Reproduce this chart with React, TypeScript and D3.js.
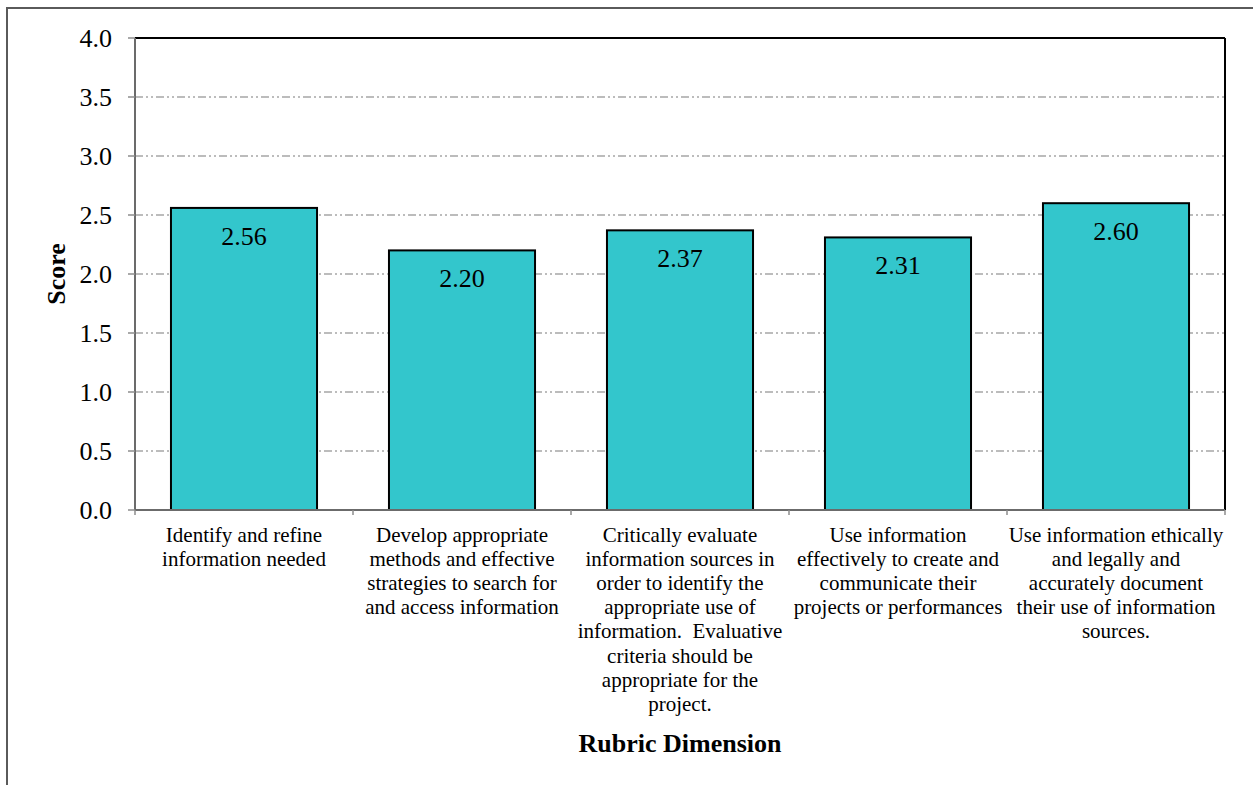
import React from "react";
import * as d3 from "d3";

const categories: string[][] = [
  ["Identify and refine", "information needed"],
  ["Develop appropriate", "methods and effective", "strategies to search for", "and access information"],
  [
    "Critically evaluate",
    "information sources in",
    "order to identify the",
    "appropriate use of",
    "information.  Evaluative",
    "criteria should be",
    "appropriate for the",
    "project.",
  ],
  ["Use information", "effectively to create and", "communicate their", "projects or performances"],
  ["Use information ethically", "and legally and", "accurately document", "their use of information", "sources."],
];
const scores: number[] = [2.56, 2.2, 2.37, 2.31, 2.6];
const yTicks: number[] = [0, 0.5, 1, 1.5, 2, 2.5, 3, 3.5, 4];
const yTitle = "Score";
const xTitle = "Rubric Dimension";

const W = 1253;
const H = 785;
const left = 135;
const right = 1225;
const top = 38;
const bottom = 510;
const FONT = '"Liberation Serif", "Times New Roman", Times, "DejaVu Serif", serif';

export default function App() {
  const idx = categories.map((_, i) => String(i));
  const x = d3.scaleBand<string>().domain(idx).range([left, right]).paddingInner(0.33).paddingOuter(0.165);
  const xOuter = d3.scaleBand<string>().domain(idx).range([left, right]);
  const y = d3.scaleLinear().domain([0, 4]).range([bottom, top]);
  const fmt = d3.format(".1f");
  const fmt2 = d3.format(".2f");
  const boundaries = [left, ...idx.map((k) => (xOuter(k) as number) + xOuter.bandwidth())];

  return (
    <svg
      width={W}
      height={H}
      style={{ position: "absolute", left: 0, top: 0, background: "#fff", fontFamily: FONT }}
    >
      <rect x={0} y={0} width={W} height={H} fill="#fff" />
      {/* outer chart frame */}
      <rect x={7} y={8} width={1400} height={1000} fill="none" stroke="#5a5a5a" strokeWidth={2} />

      {/* gridlines */}
      {yTicks
        .filter((t) => t > 0 && t < 4)
        .map((t) => (
          <line
            key={"g" + t}
            x1={left}
            x2={right}
            y1={y(t)}
            y2={y(t)}
            stroke="#a6a6a6"
            strokeWidth={1.5}
            strokeDasharray="8,3,2,3,2,3"
          />
        ))}

      {/* plot frame top/right */}
      <line x1={left} x2={right} y1={top} y2={top} stroke="#000" strokeWidth={2} />
      <line x1={right} x2={right} y1={top} y2={bottom} stroke="#000" strokeWidth={2} />

      {/* bars */}
      {scores.map((v, i) => (
        <rect
          key={"b" + i}
          x={x(String(i))}
          y={y(v)}
          width={x.bandwidth()}
          height={bottom - y(v)}
          fill="#33C6CC"
          stroke="#000"
          strokeWidth={2}
        />
      ))}

      {/* value labels */}
      {scores.map((v, i) => (
        <text
          key={"v" + i}
          x={(x(String(i)) as number) + x.bandwidth() / 2}
          y={y(v) + 37}
          textAnchor="middle"
          style={{ fontFamily: FONT, fontSize: 26 }}
          fill="#000"
        >
          {fmt2(v)}
        </text>
      ))}

      {/* y axis */}
      <line x1={left} x2={left} y1={top} y2={bottom} stroke="#6b6b6b" strokeWidth={2} />
      {yTicks.map((t) => (
        <g key={"yt" + t}>
          <line x1={128} x2={left} y1={y(t)} y2={y(t)} stroke="#8c8c8c" strokeWidth={1.5} />
          <text x={112} y={y(t)} dy="0.33em" textAnchor="end" style={{ fontFamily: FONT, fontSize: 26 }} fill="#000">
            {fmt(t)}
          </text>
        </g>
      ))}

      {/* x axis */}
      <line x1={left} x2={right} y1={bottom} y2={bottom} stroke="#6b6b6b" strokeWidth={2} />
      {boundaries.map((bx, i) => (
        <line key={"xt" + i} x1={bx} x2={bx} y1={bottom} y2={bottom + 5} stroke="#8c8c8c" strokeWidth={1.5} />
      ))}

      {/* category labels */}
      {categories.map((lines, i) => {
        const cx = (xOuter(String(i)) as number) + xOuter.bandwidth() / 2;
        return (
          <text
            key={"c" + i}
            x={cx}
            y={541.5}
            textAnchor="middle"
            fill="#000"
            style={{ whiteSpace: "pre", fontFamily: FONT, fontSize: 21 }}
          >
            {lines.map((ln, j) => (
              <tspan key={j} x={cx} y={541.5 + j * 24.2}>
                {ln}
              </tspan>
            ))}
          </text>
        );
      })}

      {/* axis titles */}
      <text
        x={(left + right) / 2}
        y={751.5}
        textAnchor="middle"
        fill="#000"
        style={{ fontFamily: FONT, fontSize: 26, fontWeight: "bold" }}
      >
        {xTitle}
      </text>
      <text
        transform={`translate(65, ${(top + bottom) / 2}) rotate(-90)`}
        textAnchor="middle"
        fill="#000"
        style={{ fontFamily: FONT, fontSize: 26, fontWeight: "bold" }}
      >
        {yTitle}
      </text>
    </svg>
  );
}
